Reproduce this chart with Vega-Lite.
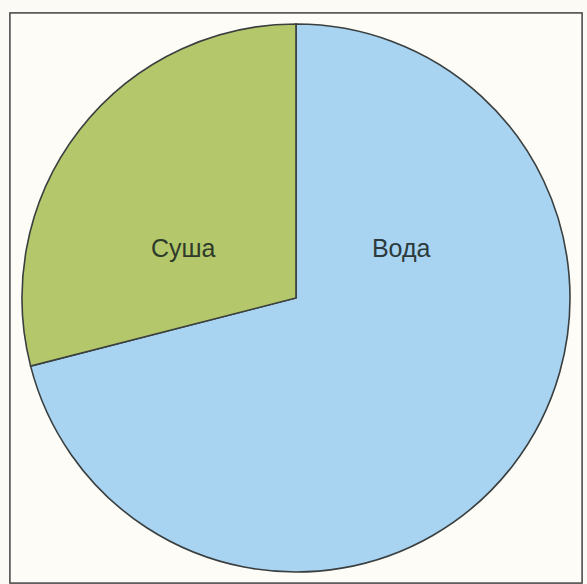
{
  "$schema": "https://vega.github.io/schema/vega-lite/v6.json",
  "autosize": {"type": "fit", "contains": "padding"},
  "width": 587,
  "height": 584,
  "padding": {"left": 9, "top": 12, "right": 4, "bottom": 0},
  "background": "#fbfaf5",
  "data": {"values": [
    {"part": "Вода", "share": 71},
    {"part": "Суша", "share": 29}
  ]},
  "layer": [
    {"mark": {"type": "rect", "fill": "#fdfcf7", "stroke": "#555555", "strokeWidth": 1.5},
     "encoding": {}},
    {"mark": {"type": "arc", "radius": 274, "stroke": "#3a3f3f", "strokeWidth": 1.6},
     "encoding": {
       "theta": {"field": "share", "type": "quantitative", "stack": true},
       "color": {"field": "part", "type": "nominal", "legend": null,
         "scale": {"domain": ["Вода", "Суша"], "range": ["#a8d3f1", "#b4c86b"]}}
     }},
    {"transform": [
       {"stack": "share", "groupby": [], "sort": [{"field": "part", "order": "ascending"}], "as": ["s0", "s1"]},
       {"filter": "datum.part === 'Вода'"}],
     "mark": {"type": "text", "radius": 116, "thetaOffset": 1.136, "fontSize": 25, "font": "Liberation Sans", "fill": "#2c3a3c", "align": "center", "baseline": "middle"},
     "encoding": {"theta": {"field": "s0", "type": "quantitative", "stack": null}, "text": {"field": "part"}}},
    {"transform": [
       {"stack": "share", "groupby": [], "sort": [{"field": "part", "order": "ascending"}], "as": ["s0", "s1"]},
       {"filter": "datum.part === 'Суша'"}],
     "mark": {"type": "text", "radius": 123, "thetaOffset": 0.660, "fontSize": 25, "font": "Liberation Sans", "fill": "#2f3a2a", "align": "center", "baseline": "middle"},
     "encoding": {"theta": {"field": "s0", "type": "quantitative", "stack": null}, "text": {"field": "part"}}}
  ]
}
